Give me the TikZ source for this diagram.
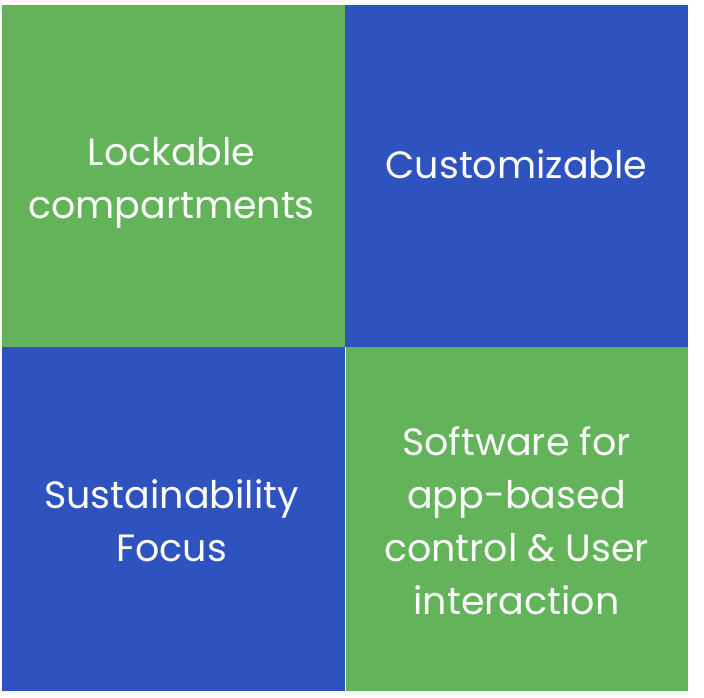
\documentclass[tikz,border=0pt]{standalone}
\usepackage{fontspec}
\setmainfont{Poppins}
\definecolor{tilegreen}{HTML}{62B35A}
\definecolor{tileblue}{HTML}{2E52BE}
\begin{document}
\begin{tikzpicture}[x=1pt,y=-1pt,
  label/.style={text=white,align=center,inner sep=0pt,
    font=\fontsize{38}{53}\selectfont}]
  \useasboundingbox[fill=white] (0,0) rectangle (704,698);
  % four quadrant tiles
  \fill[tilegreen] (2,5) rectangle (345,347);
  \fill[tileblue] (345,5) rectangle (688,347);
  \fill[tileblue] (2,347) rectangle (345,691);
  \fill[tilegreen] (346,347) rectangle (688,691);
  % tile captions
  \node[label] (lock) at (171.5,183) {Lockable\\compartments};
  \node[label] (cust) at (516.5,164) {Customizable};
  \node[label] (sust) at (171.5,521) {Sustainability\\Focus};
  \node[label] (soft) at (516.5,521) {Software for\\app-based\\control \& User\\interaction};
\end{tikzpicture}
\end{document}
